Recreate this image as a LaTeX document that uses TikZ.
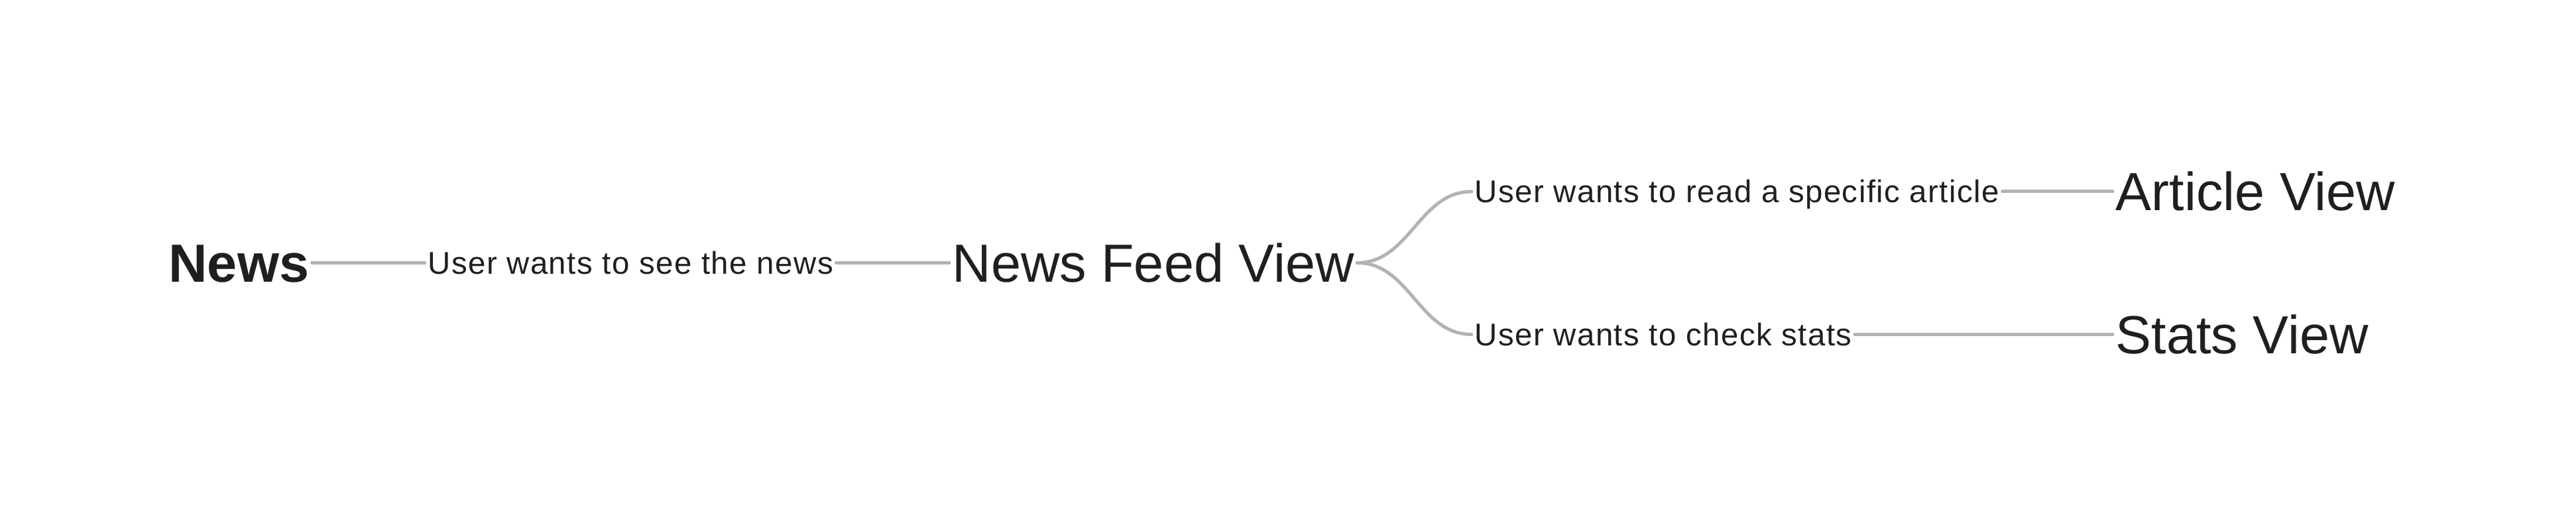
\documentclass[tikz,border=0pt]{standalone}
\usepackage{fontspec}
\setmainfont{Liberation Sans}
\newfontfamily\actionfont[LetterSpace=3.0]{Liberation Sans}
\usepackage{xcolor}
\usetikzlibrary{positioning}

\definecolor{inkgray}{HTML}{1F1F1F}
\definecolor{linkgray}{HTML}{B3B3B3}

\begin{document}
\begin{tikzpicture}[
		view/.style={anchor=west,inner sep=0pt,outer sep=0.045cm,text=inkgray,
			font=\fontsize{23.05}{26}\selectfont,text height=16.5pt,text depth=0pt},
		action/.style={anchor=west,inner sep=0pt,outer sep=0.045cm,text=inkgray,
			font=\actionfont\fontsize{13.5}{16}\selectfont,text height=9.67pt,text depth=0pt},
		link/.style={draw=linkgray,line width=0.05cm,line cap=round}
	]
		\useasboundingbox (0,0) rectangle (38.86,7.91);
		\node[view,font=\fontsize{23.05}{26}\selectfont\bfseries] (news) at (2.50,3.945) {News};
		\node[action] (see) at (6.41,3.945) {User wants to see the news};
		\node[view] (feed) at (14.32,3.945) {News Feed View};
		\node[action] (read) at (22.20,5.02) {User wants to read a specific article};
		\node[action] (check) at (22.20,2.865) {User wants to check stats};
		\node[view] (article) at (31.87,5.02) {Article View};
		\node[view] (stats) at (31.87,2.865) {Stats View};
		\draw[link] (news.east) -- (see.west);
		\draw[link] (see.east) -- (feed.west);
		\draw[link] (feed.east) to[out=0,in=180] (read.west);
		\draw[link] (feed.east) to[out=0,in=180] (check.west);
		\draw[link] (read.east) -- (article.west);
		\draw[link] (check.east) -- (stats.west);
	\end{tikzpicture}
\end{document}
